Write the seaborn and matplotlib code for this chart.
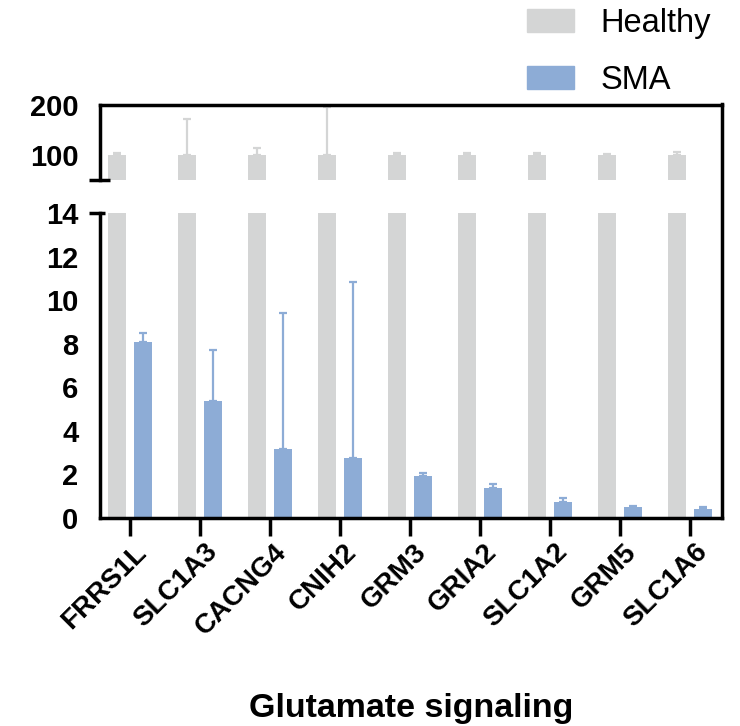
import numpy as np
import pandas as pd
import matplotlib
matplotlib.use("Agg")
import matplotlib.pyplot as plt
import matplotlib.transforms as mtransforms
from matplotlib.lines import Line2D
import seaborn as sns

# Expression relative to healthy controls (%), glutamate signaling genes
genes = ["FRRS1L", "SLC1A3", "CACNG4", "CNIH2", "GRM3",
         "GRIA2", "SLC1A2", "GRM5", "SLC1A6"]
healthy_mean = [100, 100, 100, 100, 100, 100, 100, 100, 100]
healthy_upper = [105, 173, 115, 196, 105, 105, 104, 103, 107]
sma_mean = [8.1, 5.35, 3.15, 2.75, 1.95, 1.4, 0.75, 0.5, 0.42]
sma_upper = [8.5, 7.7, 9.4, 10.85, 2.05, 1.55, 0.9, 0.56, 0.5]
groups = ["Healthy", "SMA"]
colors = {"Healthy": "#d4d5d5", "SMA": "#8dacd6"}

df = pd.DataFrame({
    "gene": genes * 2,
    "group": ["Healthy"] * len(genes) + ["SMA"] * len(genes),
    "value": healthy_mean + sma_mean,
})

sns.set_style("white")
plt.rcParams["font.family"] = ["Liberation Sans", "DejaVu Sans"]
plt.rcParams.update({"text.color": "black", "axes.labelcolor": "black",
                     "xtick.color": "black", "ytick.color": "black"})

W, H = 740, 726
fig = plt.figure(figsize=(W / 100, H / 100), dpi=100)

left, right = 100, 722
ax_top = fig.add_axes([left / W, (H - 180) / H, (right - left) / W, 75 / H])
ax_bot = fig.add_axes([left / W, (H - 518) / H, (right - left) / W, 305 / H])

spine_lw = 2.5
ytick_size = 21
for ax in (ax_top, ax_bot):
    sns.barplot(data=df, x="gene", y="value", hue="group", order=genes,
                hue_order=groups, palette=colors, width=0.75, gap=0.32,
                errorbar=None, saturation=1, legend=False, ax=ax,
                linewidth=0)
    for container, grp, means, uppers in zip(
            ax.containers, groups, [healthy_mean, sma_mean],
            [healthy_upper, sma_upper]):
        xs = [b.get_x() + b.get_width() / 2 for b in container]
        m = np.array(means, dtype=float)
        u = np.array(uppers, dtype=float)
        ax.errorbar(xs, m, yerr=[np.zeros_like(m), u - m], fmt="none",
                    ecolor=colors[grp], elinewidth=1.6, capsize=3.2,
                    capthick=1.6, zorder=1)
    ax.set_xlim(-0.4286, 8.457)
    ax.set_xlabel("")
    ax.set_ylabel("")
    ax.spines["right"].set_visible(False)
    for s in ("left", "top", "bottom"):
        ax.spines[s].set_linewidth(spine_lw)
        ax.spines[s].set_color("black")
    ax.tick_params(axis="y", direction="out", length=11.5, width=spine_lw,
                   color="black", pad=4, labelsize=ytick_size)

# upper segment of the broken axis
ax_top.set_ylim(50, 200)
ax_top.set_yticks([100, 200])
ax_top.set_yticklabels(["100", "200"], fontweight="bold", fontsize=ytick_size)
ax_top.spines["bottom"].set_visible(False)
ax_top.tick_params(axis="x", bottom=False, labelbottom=False)

# lower segment
ax_bot.set_ylim(0, 14)
ax_bot.set_yticks(range(0, 15, 2))
ax_bot.set_yticklabels([str(v) for v in range(0, 15, 2)],
                       fontweight="bold", fontsize=ytick_size)
ax_bot.spines["top"].set_visible(False)
ax_bot.yaxis.get_major_ticks()[-1].tick1line.set_visible(False)
ax_bot.tick_params(axis="x", direction="out", length=13, width=spine_lw,
                   color="black", bottom=True, pad=3)
ax_bot.set_xticks(range(len(genes)))
ax_bot.set_xticklabels(genes, rotation=45, ha="right", va="center",
                       rotation_mode="anchor", fontweight="bold", fontsize=20)
offset = mtransforms.ScaledTranslation(13 / 100, -8 / 100, fig.dpi_scale_trans)
for lab in ax_bot.get_xticklabels():
    lab.set_transform(lab.get_transform() + offset)
ax_bot.set_xlabel("Glutamate signaling", fontsize=24.5, fontweight="bold",
                  labelpad=38)

# continuous right frame line across both segments
tr = mtransforms.blended_transform_factory(ax_bot.transAxes, fig.transFigure)
fig.add_artist(Line2D([1, 1], [(H - 104) / H, (H - 518) / H], transform=tr,
                      color="black", lw=spine_lw, solid_capstyle="projecting"))

# break caps on the left axis
def pxx(px):
    return (px - left) / (right - left)

fig.add_artist(Line2D([pxx(89), pxx(110)], [(H - 180) / H] * 2, transform=tr,
                      color="black", lw=spine_lw, solid_capstyle="butt"))
fig.add_artist(Line2D([pxx(89), pxx(105)], [(H - 213) / H] * 2, transform=tr,
                      color="black", lw=spine_lw, solid_capstyle="butt"))

# legend
handles = [plt.Rectangle((0, 0), 1, 1, color=colors[g]) for g in groups]
fig.legend(handles, groups, loc="center left",
           bbox_to_anchor=(527 / W, 1 - 52 / H), frameon=False, fontsize=23.5,
           handlelength=1.45, handleheight=0.72, handletextpad=0.8,
           labelspacing=0.8, borderpad=0, borderaxespad=0)

fig.savefig("out.png", dpi=100)
